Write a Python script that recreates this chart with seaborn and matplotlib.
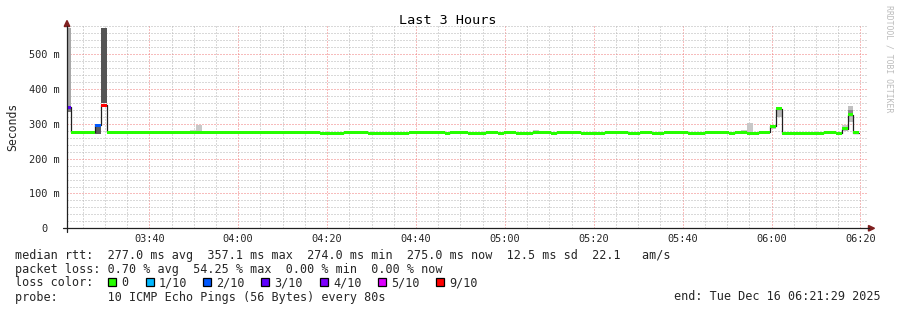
import numpy as np
import pandas as pd
import matplotlib
matplotlib.use("Agg")
import matplotlib.pyplot as plt
import matplotlib.dates as mdates
from matplotlib.ticker import MultipleLocator
from matplotlib.patches import Polygon, Rectangle
from matplotlib.lines import Line2D
import seaborn as sns

# ---------------- data ----------------
first_sample = "2025-12-16 03:21:06"   # start of the first (partly visible) 80 s step
step_seconds = 80
view_start = "2025-12-16 03:21:29"
view_end = "2025-12-16 06:21:29"

# median rtt per 80 s step, in ms (134 steps)
median_ms = [
    348.0, 275.5, 275.5, 275.5, 275.5, 296.0, 354.0, 275.5, 275.5, 275.5,
    275.5, 275.5, 275.5, 275.5, 275.5, 275.5, 275.5, 275.5, 275.5, 275.5,
    275.5, 275.5, 275.5, 275.5, 275.5, 275.5, 275.5, 275.5, 275.5, 275.5,
    275.5, 275.5, 275.5, 275.5, 275.5, 275.5, 275.5, 275.5, 275.5, 275.5,
    275.5, 275.5, 275.5, 272.5, 272.5, 272.5, 272.5, 275.5, 275.5, 275.5,
    275.5, 272.5, 272.5, 272.5, 272.5, 272.5, 272.5, 272.5, 275.5, 275.5,
    275.5, 275.5, 275.5, 275.5, 272.5, 275.5, 275.5, 275.5, 272.5, 272.5,
    272.5, 275.5, 275.5, 272.5, 275.5, 275.5, 272.5, 272.5, 272.5, 275.5,
    275.5, 275.5, 272.5, 275.5, 275.5, 275.5, 275.5, 272.5, 272.5, 272.5,
    272.5, 275.5, 275.5, 275.5, 275.5, 272.5, 272.5, 275.5, 275.5, 272.5,
    272.5, 275.5, 275.5, 275.5, 275.5, 272.5, 272.5, 272.5, 275.5, 275.5,
    275.5, 275.5, 272.5, 275.5, 275.5, 272.5, 272.5, 275.5, 275.5, 293.0,
    344.0, 272.5, 272.5, 272.5, 272.5, 272.5, 272.5, 272.5, 275.5, 275.5,
    272.5, 286.0, 326.0, 275.0,
]

# packet loss (percent) for the steps that had any loss; all other steps 0 %
loss_sample = [0, 5, 6]
loss_pct = [30.0, 20.0, 54.25]

# smoke (spread of the individual pings) per step
smoke_sample = [0, 0, 5, 6, 21, 22, 79, 114, 115, 119, 120, 131, 132, 132]
smoke_lo = [345, 334, 272, 359, 275, 275, 275, 275, 275, 284, 320, 280, 305, 330]
smoke_hi = [575, 345, 293, 575, 281, 297, 282, 282, 302, 290, 340, 296, 351, 340]
smoke_gray = [0xA8, 0x78, 0x5C, 0x55, 0xD2, 0xC8, 0xC8, 0xC8, 0xC8, 0xC0, 0xB8, 0xC8, 0xC0, 0x88]

loss_labels = ["0", "1/10", "2/10", "3/10", "4/10", "5/10", "9/10"]
loss_colors = ["#26ff00", "#00b8ff", "#0059ff", "#5e00ff", "#7e00ff", "#dd00ff", "#ff0000"]
loss_upper = [0, 10, 20, 30, 40, 50, 100]

y_ticks = [0, 100, 200, 300, 400, 500]
y_tick_labels = ["0  ", "100 m", "200 m", "300 m", "400 m", "500 m"]

title = "Last 3 Hours"
line_rtt = "median rtt:  277.0 ms avg  357.1 ms max  274.0 ms min  275.0 ms now  12.5 ms sd  22.1   am/s"
line_loss = "packet loss: 0.70 % avg  54.25 % max  0.00 % min  0.00 % now"
line_color = "loss color:"
line_probe = "probe:       10 ICMP Echo Pings (56 Bytes) every 80s"
line_end = "end: Tue Dec 16 06:21:29 2025"
watermark = "RRDTOOL / TOBI OETIKER"
ylabel = "Seconds"

# ---------------- derived ----------------
n = len(median_ms)
edges = pd.date_range(first_sample, periods=n + 1, freq=f"{step_seconds}s")
edges_num = mdates.date2num(edges.to_pydatetime())
starts_num = edges_num[:-1]
width_days = step_seconds / 86400.0
median = np.array(median_ms)

loss_full = np.zeros(n)
loss_full[loss_sample] = loss_pct
def loss_color(p):
    for up, c in zip(loss_upper, loss_colors):
        if p <= up:
            return c
    return loss_colors[-1]
band_colors = [loss_color(p) for p in loss_full]

# ---------------- figure ----------------
sns.set_style("white")
plt.rcParams["font.family"] = ["DejaVu Sans Mono"]

W, H = 897, 310
fig = plt.figure(figsize=(W / 100, H / 100), dpi=100)
fig.patch.set_facecolor("white")
def fx(x): return x / W
def fy(y): return 1 - y / H

x0, x1, ytop, ybot = 67, 867, 26, 228.3
ax = fig.add_axes([fx(x0), fy(ybot), (x1 - x0) / W, (ybot - ytop) / H])
ax.set_facecolor("white")
ax.set_axisbelow(True)

t0 = mdates.date2num(pd.Timestamp(view_start).to_pydatetime())
t1 = mdates.date2num(pd.Timestamp(view_end).to_pydatetime())
ax.set_xlim(t0, t1)
ax.set_ylim(0, 581)

# grid
ax.xaxis.set_major_locator(mdates.MinuteLocator(byminute=[0, 20, 40]))
ax.xaxis.set_minor_locator(mdates.MinuteLocator(byminute=range(0, 60, 5)))
ax.xaxis.set_major_formatter(mdates.DateFormatter("%H:%M"))
ax.yaxis.set_minor_locator(MultipleLocator(20))
ax.set_yticks(y_ticks)
ax.set_yticklabels(y_tick_labels)
ax.grid(which="minor", color="#b4b4b4", linewidth=0.72, linestyle=(0, (1, 2)))
ax.grid(which="major", color="#f07a7a", linewidth=0.72, linestyle=(0, (1, 2)))

ax.tick_params(axis="y", which="major", direction="out", length=2.2, width=0.72,
               color="#202020", labelsize=7.4, pad=2.8)
ax.tick_params(axis="y", which="minor", direction="out", length=1.5, width=0.72,
               color="#9a9a9a")
ax.tick_params(axis="x", which="major", direction="out", length=1.5, width=0.72,
               color="#202020", labelsize=7.4, pad=2.4)
ax.tick_params(axis="x", which="minor", direction="out", length=1.5, width=0.72,
               color="#9a9a9a")
for s in ax.spines.values():
    s.set_visible(False)

# smoke
ax.bar(starts_num[smoke_sample], np.array(smoke_hi) - np.array(smoke_lo),
       bottom=smoke_lo, width=width_days, align="edge",
       color=["#%02x%02x%02x" % (g, g, g) for g in smoke_gray],
       linewidth=0, zorder=1)

# median line (thin, dark)
sns.lineplot(x=edges_num, y=np.append(median, median[-1]), drawstyle="steps-post",
             color="#202020", linewidth=0.9, estimator=None, sort=False, ax=ax, zorder=2)

# loss-coloured median band
sw = 4.3
ax.bar(starts_num, np.full(n, 2 * sw), bottom=median - sw, width=width_days,
       align="edge", color=band_colors, linewidth=0, zorder=3)
ax.set_xlabel("")
ax.set_ylabel("")

# axis lines and arrows
fig.add_artist(Line2D([fx(63), fx(869)], [fy(ybot), fy(ybot)], color="#202020",
                      linewidth=0.9, transform=fig.transFigure))
fig.add_artist(Line2D([fx(x0), fx(x0)], [fy(232), fy(26)], color="#202020",
                      linewidth=0.9, transform=fig.transFigure))
fig.add_artist(Polygon([[fx(67), fy(20.5)], [fx(64.2), fy(26.5)], [fx(69.8), fy(26.5)]],
                       closed=True, color="#7f1f1f", transform=fig.transFigure))
fig.add_artist(Polygon([[fx(874.5), fy(ybot)], [fx(868.5), fy(ybot - 2.8)],
                        [fx(868.5), fy(ybot + 2.8)]],
                       closed=True, color="#7f1f1f", transform=fig.transFigure))

# texts
fig.text(fx(448), fy(24), title, ha="center", va="baseline", fontsize=9.7, color="black")
fig.text(fx(12.4), fy(127), ylabel, rotation=90, ha="center", va="center", fontsize=8.3)
fig.text(fx(888.5), fy(59), watermark, rotation=270, ha="center", va="center",
         fontsize=5.9, color="#bcbcbc")

fs = 8.5
fig.text(fx(15.2), fy(258.5), line_rtt, ha="left", va="baseline", fontsize=fs)
fig.text(fx(15.2), fy(272.5), line_loss, ha="left", va="baseline", fontsize=fs)
fig.text(fx(15.2), fy(286.5), line_color, ha="left", va="baseline", fontsize=fs)
fig.text(fx(15.2), fy(300.5), line_probe, ha="left", va="baseline", fontsize=fs)
fig.text(fx(881), fy(300.5), line_end, ha="right", va="baseline", fontsize=fs)

box_left = [108, 146, 203, 261, 320, 378, 436]
for bl, lab, col in zip(box_left, loss_labels, loss_colors):
    fig.add_artist(Rectangle((fx(bl), fy(286)), 8 / W, 7.8 / H, facecolor=col,
                             edgecolor="black", linewidth=0.9, transform=fig.transFigure))
    fig.text(fx(bl + 13), fy(286.5), lab, ha="left", va="baseline", fontsize=fs)

fig.savefig("out.png", dpi=100, facecolor="white")
